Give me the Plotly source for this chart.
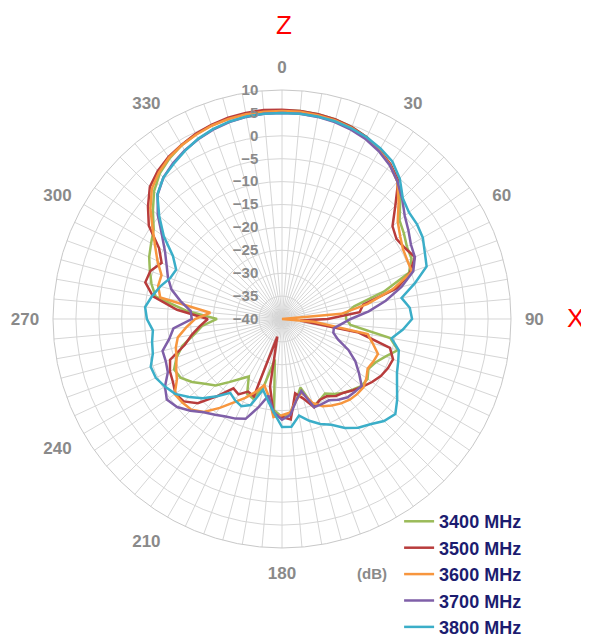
import plotly.graph_objects as go

angles = list(range(0, 360, 5))

series_names = ["3400 MHz", "3500 MHz", "3600 MHz", "3700 MHz", "3800 MHz"]
series_colors = ["#9BBB59", "#B83C3C", "#F7963E", "#7F5FA8", "#3BAEC8"]

g3400 = [5.6, 5.6, 5.4, 5.1, 4.6, 3.8, 2.6, 1.2, -0.8, -3.5,
         -6.5, -7.5, -8.5, -8.8, -10.5, -17, -24, -26, -26, -25,
         -16, -13.8, -16, -17.5, -18.2, -17.2, -17.3, -18.2, -19, -20,
         -21.2, -20.5, -19.7, -24.5, -22, -19.5, -18.6, -20, -31, -25,
         -21.5, -22, -25.5, -24, -22, -19.5, -18, -16, -14.4, -14,
         -15.5, -17.5, -20.5, -22.5, -25.8, -19, -12, -10.5, -9.3, -8,
         -7, -5.8, -3.2, -0.5, 1.5, 2.8, 3.8, 4.5, 5.0, 5.3,
         5.5, 5.6]

g3500 = [5.7, 5.6, 5.4, 5.1, 4.6, 3.8, 2.6, 1.3, -0.5, -5,
         -8.5, -9.5, -9, -8, -10.2, -14, -22, -23, -30, -36,
         -23, -15.6, -14.2, -14.5, -15.1, -16, -17, -18, -19, -19.5,
         -20.5, -20.5, -19.5, -22, -23.5, -18, -18.6, -19, -25, -36,
         -22, -22.5, -21, -21.5, -18, -14, -12, -11.6, -12.5, -13,
         -14, -18, -20, -22, -23.8, -17, -11.4, -9.1, -9.4, -11,
         -9, -4.5, -1.8, 0.8, 2.2, 3.2, 3.9, 4.6, 5.1, 5.5,
         5.7, 5.8]

g3600 = [5.4, 5.4, 5.2, 4.9, 4.4, 3.6, 2.5, 1.1, -0.8, -4,
         -7, -8.5, -9.5, -9.8, -9.8, -15, -21, -27, -40, -33,
         -21, -19.5, -17.7, -18, -18.4, -17.5, -16.8, -16.8, -17, -17.5,
         -18.2, -19, -20.5, -23.4, -22, -19.5, -19, -18.5, -23, -25,
         -23, -21, -19, -16.3, -13.5, -12, -11.6, -11.4, -13.5, -14.5,
         -15.5, -16, -16.9, -19, -21, -24.3, -13, -12, -12, -10,
         -8, -5.5, -2.5, 0.2, 1.8, 3, 3.8, 4.4, 4.9, 5.2,
         5.4, 5.4]

g3700 = [5.0, 5.0, 4.8, 4.5, 4.0, 3.3, 2.3, 1.0, -0.8, -2.9,
         -5, -6.3, -7.5, -8, -9.5, -13, -17, -21, -25, -27,
         -28.5, -28.4, -27, -24, -21.5, -19.5, -17.3, -17.5, -17.7, -18.5,
         -19.5, -19.5, -19.5, -23.7, -22, -19, -18, -19.5, -23, -20,
         -16.8, -16, -15.4, -14.5, -13.4, -11.7, -10.1, -9.3, -10.5, -12.5,
         -13, -13, -15, -16.2, -20.3, -20, -17.5, -15, -13.5, -12.2,
         -10.5, -8, -4.6, -1.6, 0.3, 1.5, 2.5, 3.3, 4.0, 4.5,
         4.8, 5.0]

g3800 = [5.0, 5.0, 4.9, 4.7, 4.3, 3.8, 3.0, 2.0, 0, -2.7,
         -3.8, -4, -4.5, -5.6, -6.4, -10, -13.5, -12, -11.6, -13.5,
         -15.7, -13.6, -13, -12.3, -11, -9.3, -7.7, -8.5, -10, -11,
         -12.5, -14.5, -15.6, -17, -18.6, -16.4, -16.4, -19.5, -22, -24,
         -20, -19, -19.5, -20.3, -18, -15.5, -13.5, -11.5, -10.5, -9.6,
         -9.5, -10.8, -11.2, -11.7, -10.5, -10, -11.2, -12.5, -14, -14.5,
         -12.5, -8.5, -5, -1.5, 0.3, 1.3, 2.4, 3.4, 4.1, 4.6,
         4.9, 5.0]

series_values = [g3400, g3500, g3600, g3700, g3800]

angle_ticks = list(range(0, 360, 5))
angle_shown = [0, 30, 60, 90, 180, 210, 240, 270, 300, 330]
angle_labels = [str(a) if a in angle_shown else "" for a in angle_ticks]
radial_ticks = list(range(-40, 11, 5))

fig = go.Figure()
for name, color, vals in zip(series_names, series_colors, series_values):
    fig.add_trace(go.Scatterpolar(
        r=vals + vals[:1],
        theta=angles + angles[:1],
        mode="lines",
        name=name,
        line=dict(color=color, width=2.5),
    ))

gray = "#8a8a8a"
fig.update_layout(
    width=589, height=638,
    margin=dict(l=0, r=0, t=0, b=0),
    paper_bgcolor="white",
    font=dict(family="Liberation Sans, Arial, sans-serif"),
    polar=dict(
        domain=dict(x=[0.0764, 0.854], y=[0.1536, 0.8715]),
        bgcolor="white",
        angularaxis=dict(
            rotation=90, direction="clockwise",
            tickmode="array", tickvals=angle_ticks, ticktext=angle_labels,
            ticks="outside", ticklen=10, tickcolor="rgba(0,0,0,0)",
            gridcolor="#d6d6d6", gridwidth=1,
            showline=True, linecolor="#c8c8c8", linewidth=1,
            tickfont=dict(size=17, color=gray, weight="bold"),
        ),
        radialaxis=dict(
            range=[-40, 10], tickmode="array", tickvals=radial_ticks,
            angle=90, tickangle=90, side="counterclockwise",
            showline=False, ticks="outside", ticklen=18,
            tickcolor="rgba(0,0,0,0)",
            gridcolor="#d6d6d6", gridwidth=1,
            tickfont=dict(size=15, color=gray, weight="bold"),
        ),
    ),
    legend=dict(
        x=0.664, y=0.224, xanchor="left", yanchor="top",
        font=dict(size=18, color="#1c1c70", weight="bold"),
        bgcolor="rgba(255,255,255,0)",
        tracegroupgap=0, itemwidth=30,
    ),
    annotations=[
        dict(text="Z", x=0.4686, y=0.9734, xref="paper", yref="paper",
             xanchor="center", yanchor="middle",
             showarrow=False, font=dict(size=26, color="red")),
        dict(text="X", x=0.9627, y=0.514, xref="paper", yref="paper",
             xanchor="center", yanchor="middle",
             showarrow=False, font=dict(size=26, color="red")),
        dict(text="(dB)", x=0.618, y=0.1144, xref="paper", yref="paper",
             xanchor="center", yanchor="middle",
             showarrow=False, font=dict(size=15, color=gray, weight="bold")),
    ],
)

fig.write_html("out.html")
